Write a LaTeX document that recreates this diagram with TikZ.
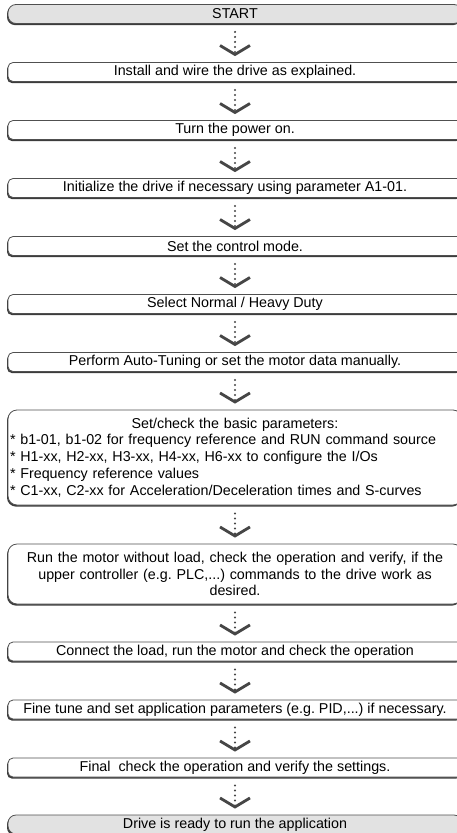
\documentclass[tikz,border=0pt]{standalone}
\usepackage{fontspec}
\setmainfont{Liberation Sans}
\usetikzlibrary{arrows.meta,shadows}

\begin{document}
\frenchspacing
\begin{tikzpicture}[x=1pt,y=1pt,yscale=-1,
  stepbox/.style={draw={rgb, 255:red, 80; green, 80; blue, 80 }, line width=0.8pt, fill=white, rounded corners=5pt, minimum width=454pt, minimum height=19pt, inner sep=0pt, font=\fontsize{14.3}{16.8}\selectfont, drop shadow={shadow xshift=-1pt, shadow yshift=-1.6pt, fill={rgb, 255:red, 60; green, 60; blue, 60 }, opacity=1}},
  endbox/.style={stepbox, fill={rgb, 255:red, 226; green, 226; blue, 226 }, rounded corners=8pt},
  bigbox/.style={stepbox, rounded corners=9pt, text width=450pt, inner xsep=2pt},
  flow/.style={draw={rgb, 255:red, 70; green, 70; blue, 70 }, line width=2.3pt, line cap=round, dash pattern=on 0pt off 5pt, shorten <=8pt, shorten >=6pt, -{Straight Barb[length=9pt, width=30pt, line width=2.8pt]}}
]
\useasboundingbox (0,0) rectangle (456,833);

%Rounded Rect
\node (start) [endbox] at (235,14) {START};
%Rounded Rect
\node (install) [stepbox] at (235,72) {Install and wire the drive as explained.};
%Rounded Rect
\node (power) [stepbox] at (235,130) {Turn the power on.};
%Rounded Rect
\node (init) [stepbox] at (235,188) {Initialize the drive if necessary using parameter A1-01.};
%Rounded Rect
\node (mode) [stepbox] at (235,246) {Set the control mode.};
%Rounded Rect
\node (duty) [stepbox] at (235,304) {Select Normal / Heavy Duty};
%Rounded Rect
\node (tuning) [stepbox] at (235,362) {Perform Auto-Tuning or set the motor data manually.};
%Rounded Rect
\node (basic) [bigbox, minimum height=95pt, align=left] at (235,457.5) {\makebox[450pt]{Set/check the basic parameters:}\\{}* b1-01, b1-02 for frequency reference and RUN command source\\{}* H1-xx, H2-xx, H3-xx, H4-xx, H6-xx to configure the I/Os\\{}* Frequency reference values\\{}* C1-xx, C2-xx for Acceleration/Deceleration times and S-curves};
%Rounded Rect
\node (noload) [bigbox, minimum height=60pt, align=center] at (235,574) {Run the motor without load, check the operation and verify, if the\\upper controller (e.g. PLC,...) commands to the drive work as\\desired.};
%Rounded Rect
\node (load) [stepbox] at (235,651.5) {Connect the load, run the motor and check the operation};
%Rounded Rect
\node (fine) [stepbox] at (235,709.5) {Fine tune and set application parameters (e.g. PID,...) if necessary.};
%Rounded Rect
\node (final) [stepbox] at (235,767.5) {Final\ \ check the operation and verify the settings.};
%Rounded Rect
\node (ready) [endbox] at (235,824.5) {Drive is ready to run the application};

%Dotted Arrows
\draw [flow] (start) -- (install);
\draw [flow] (install) -- (power);
\draw [flow] (power) -- (init);
\draw [flow] (init) -- (mode);
\draw [flow] (mode) -- (duty);
\draw [flow] (duty) -- (tuning);
\draw [flow] (tuning) -- (basic);
\draw [flow] (basic) -- (noload);
\draw [flow] (noload) -- (load);
\draw [flow] (load) -- (fine);
\draw [flow] (fine) -- (final);
\draw [flow] (final) -- (ready);

\end{tikzpicture}
\end{document}
